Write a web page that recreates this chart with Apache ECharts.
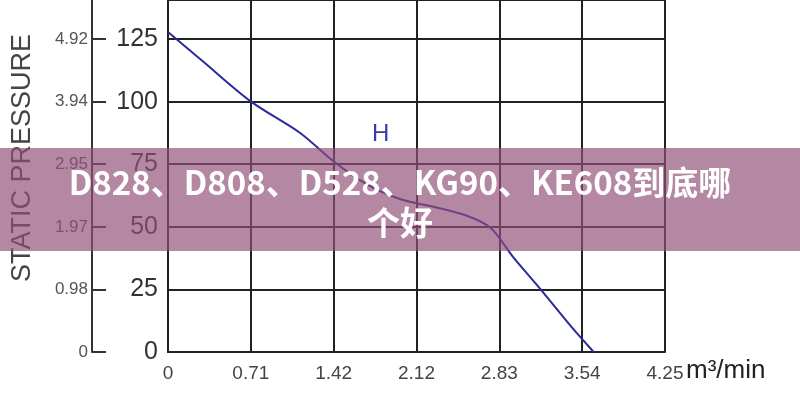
<!DOCTYPE html>
<html><head><meta charset="utf-8">
<script src="https://cdn.jsdelivr.net/npm/echarts@6/dist/echarts.min.js"></script>
<style>html,body{margin:0;padding:0;background:#fff}#c{width:800px;height:400px}</style>
</head><body><div id="c"></div>
<script>
const flow = [0, 0.3, 0.71, 1.13, 1.42, 1.7, 1.99, 2.27, 2.55, 2.76, 2.95, 3.19, 3.45, 3.64];
const pressure = [127.8, 116, 100, 87.5, 76, 67, 61, 58, 54.5, 49.5, 38, 24.8, 10, 0];
const xTicks = [0, 0.71, 1.42, 2.12, 2.83, 3.54, 4.25];
const paTicks = [0, 25, 50, 75, 100, 125];
const inh2oLabels = ['0', '0.98', '1.97', '2.95', '3.94', '4.92'];
const title = 'D828、D808、D528、KG90、KE608到底哪\n个好';

const ch = echarts.init(document.getElementById('c'));
const font = 'Liberation Sans';
ch.setOption({
  animation: false,
  grid: {left: 168, right: 135, top: 0, bottom: 48},
  xAxis: {
    type: 'value', min: 0, max: 4.25, interval: 0.70833,
    axisLine: {show: true, lineStyle: {color: '#222', width: 2}},
    axisTick: {show: false},
    splitLine: {show: true, lineStyle: {color: '#222', width: 2}},
    axisLabel: {margin: 12, color: '#444', fontSize: 19, fontFamily: font,
      formatter: (v) => { const i = Math.round(v / 0.70833); return xTicks[i] !== undefined ? String(xTicks[i]) : ''; }}
  },
  yAxis: [{
    type: 'value', min: 0, max: 140.6, interval: 25,
    axisLine: {show: true, lineStyle: {color: '#222', width: 2}},
    axisTick: {show: false},
    splitLine: {show: true, lineStyle: {color: '#222', width: 2}},
    axisLabel: {showMaxLabel: false, margin: 10, color: '#333', fontSize: 25, fontFamily: font,
      formatter: (v) => paTicks.includes(v) ? String(v) : ''}
  }, {
    type: 'value', min: 0, max: 140.6, interval: 25, position: 'left', offset: 76,
    axisLine: {show: true, onZero: false, lineStyle: {color: '#333', width: 2}},
    axisTick: {show: true, inside: true, length: 14, lineStyle: {color: '#333', width: 2}},
    splitLine: {show: false},
    axisLabel: {showMaxLabel: false, margin: 4, color: '#555', fontSize: 17, fontFamily: font,
      formatter: (v) => { const i = paTicks.indexOf(v); return i >= 0 ? inh2oLabels[i] : ''; }}
  }],
  series: [{
    type: 'line', data: flow.map((f, i) => [f, pressure[i]]), smooth: 0.3,
    showSymbol: false, lineStyle: {color: '#2a2a9a', width: 2}
  }],
  graphic: [
    {type: 'text', rotation: Math.PI / 2, x: 9, y: 282, style: {text: 'STATIC PRESSURE', fontSize: 27, fill: '#444', fontFamily: font}},
    {type: 'text', x: 372, y: 122, style: {text: 'H', fontSize: 24, fill: '#3a3aaa', fontFamily: font}},
    {type: 'text', x: 686, y: 358, style: {text: 'm³/min', fontSize: 26, fill: '#222', fontFamily: font}},
    {type: 'rect', z: 100, shape: {x: 0, y: 148, width: 800, height: 103}, style: {fill: 'rgba(145,80,120,0.68)'}},
    {type: 'text', z: 101, x: 400, y: 202, style: {text: title, fontSize: 33, fontWeight: 'bold', fill: '#fff', align: 'center', verticalAlign: 'middle', lineHeight: 40, fontFamily: 'Noto Sans CJK SC'}}
  ]
});
</script></body></html>
